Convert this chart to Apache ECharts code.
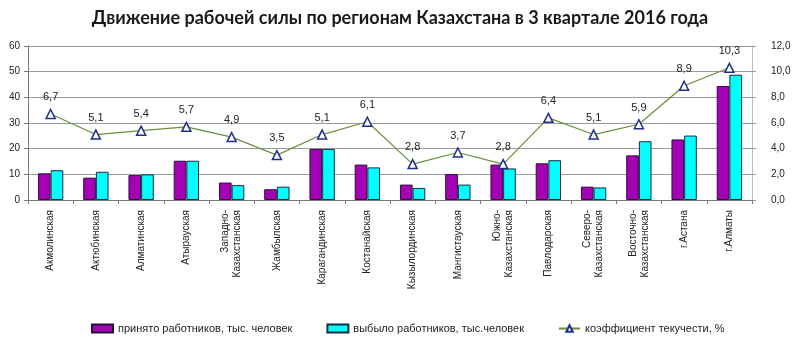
<!DOCTYPE html>
<html>
<head>
<meta charset="utf-8">
<script src="https://cdn.jsdelivr.net/npm/echarts@6/dist/echarts.min.js"></script>
<style>
  html, body { margin: 0; padding: 0; background: #fff; }
  #chart { width: 800px; height: 340px; }
</style>
</head>
<body>
<div id="chart"></div>
<script>
// Regions of Kazakhstan
const regions = [
  'Акмолинская', 'Актюбинская', 'Алматинская', 'Атырауская',
  'Западно-\nКазахстанская', 'Жамбылская', 'Карагандинская', 'Костанайская',
  'Кызылординская', 'Мангистауская', 'Южно-\nКазахстанская', 'Павлодарская',
  'Северо-\nКазахстанская', 'Восточно-\nКазахстанская', 'г.Астана', 'г.Алматы'
];

// Hired workers, thousand people
const hired = [10.4, 8.7, 9.7, 15.3, 6.8, 4.2, 19.9, 13.8, 6.0, 10.1, 13.8, 14.3, 5.2, 17.4, 23.6, 44.4];

// Departed workers, thousand people
const departed = [11.6, 11.0, 10.0, 15.3, 5.8, 5.2, 19.9, 12.7, 4.7, 6.0, 12.3, 15.5, 4.9, 22.9, 25.1, 48.8];

// Labour turnover rate, %
const turnover = [6.7, 5.1, 5.4, 5.7, 4.9, 3.5, 5.1, 6.1, 2.8, 3.7, 2.8, 6.4, 5.1, 5.9, 8.9, 10.3];

const seriesNames = [
  'принято работников, тыс. человек',
  'выбыло работников, тыс.человек',
  'коэффициент текучести, %'
];

const comma = v => v.toFixed(1).replace('.', ',');
const baseFont = 'Liberation Sans, Arial, sans-serif';

const chart = echarts.init(document.getElementById('chart'));
chart.setOption({
  backgroundColor: '#fff',
  animation: false,
  textStyle: { fontFamily: baseFont },
  title: {
    text: 'Движение рабочей силы по регионам Казахстана в 3 квартале 2016 года',
    left: 'center',
    top: 4,
    textStyle: { fontSize: 18, fontWeight: 'bold', color: '#1a1a1a', fontFamily: 'Lato, Liberation Sans, sans-serif' }
  },
  grid: { left: 28, right: 48, top: 46, bottom: 140 },
  legend: {
    left: 86,
    top: 318,
    itemWidth: 21,
    itemHeight: 8,
    itemGap: 34,
    textStyle: { fontSize: 11, color: '#222' },
    data: [
      { name: seriesNames[0], icon: 'rect' },
      { name: seriesNames[1], icon: 'rect' },
      { name: seriesNames[2] }
    ]
  },
  xAxis: {
    type: 'category',
    data: regions,
    boundaryGap: true,
    axisLine: { lineStyle: { color: '#777' } },
    axisTick: { show: true, interval: 0, length: 4, lineStyle: { color: '#777' } },
    axisLabel: {
      interval: 0,
      rotate: 90,
      fontSize: 10,
      lineHeight: 12,
      color: '#222',
      margin: 10
    }
  },
  yAxis: [
    {
      type: 'value',
      min: 0, max: 60, interval: 10,
      axisLine: { show: true, lineStyle: { color: '#777' } },
      axisTick: { show: true, length: 4, lineStyle: { color: '#777' } },
      axisLabel: { fontSize: 10, color: '#222', margin: 8 },
      splitLine: { lineStyle: { color: '#9a9a9a' } }
    },
    {
      type: 'value',
      min: 0, max: 12, interval: 2,
      axisLine: { show: true, lineStyle: { color: '#bbb' } },
      axisTick: { show: true, length: 4, lineStyle: { color: '#999' } },
      axisLabel: { fontSize: 10, color: '#222', margin: 19, formatter: comma },
      splitLine: { show: false }
    }
  ],
  series: [
    {
      name: seriesNames[0],
      type: 'bar',
      data: hired,
      barGap: '0%',
      barCategoryGap: '44%',
      itemStyle: { color: '#a400b4', borderColor: '#2a1040', borderWidth: 1 }
    },
    {
      name: seriesNames[1],
      type: 'bar',
      data: departed,
      itemStyle: { color: '#00ffff', borderColor: '#1a2a40', borderWidth: 1 }
    },
    {
      name: seriesNames[2],
      type: 'line',
      yAxisIndex: 1,
      data: turnover,
      symbol: 'triangle',
      symbolSize: 9,
      lineStyle: { color: '#6b8e3a', width: 1.2 },
      itemStyle: { color: '#ffffff', borderColor: '#1e2f8c', borderWidth: 1.5 },
      label: {
        show: true,
        position: 'top',
        distance: 6,
        fontSize: 11,
        color: '#222',
        formatter: p => comma(p.value)
      }
    }
  ]
});
</script>
</body>
</html>
